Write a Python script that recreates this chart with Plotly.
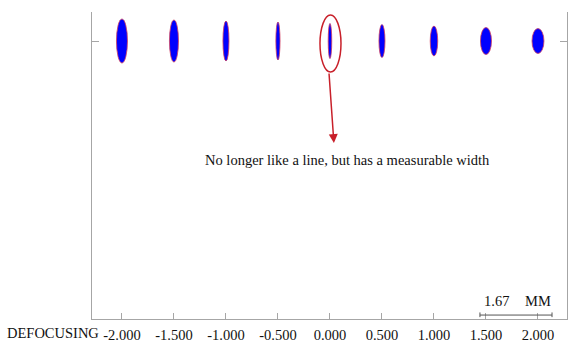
import plotly.graph_objects as go

# ---- data ----
defocus = [-2.0, -1.5, -1.0, -0.5, 0.0, 0.5, 1.0, 1.5, 2.0]
tick_labels = ["-2.000", "-1.500", "-1.000", "-0.500", "0.000", "0.500", "1.000", "1.500", "2.000"]
spot_width = [0.106, 0.087, 0.058, 0.040, 0.034, 0.058, 0.072, 0.106, 0.115]
spot_height = [0.423, 0.404, 0.385, 0.365, 0.337, 0.317, 0.288, 0.260, 0.240]
spot_row_y = 2.673
scale_label = "1.67"
scale_unit = "MM"
scale_bar = [1.442, 2.135]
note_text = "No longer like a line, but has a measurable width"

SERIF = "Liberation Serif, Times New Roman, serif"
AXIS_COLOR = "#a6a6a6"
RED = "#c8202a"

fig = go.Figure()
fig.add_trace(go.Scatter(x=defocus, y=[spot_row_y] * len(defocus), mode="markers",
                         marker=dict(size=1, opacity=0), hoverinfo="x", showlegend=False))

shapes = []
for x, w, h in zip(defocus, spot_width, spot_height):
    shapes.append(dict(type="circle", xref="x", yref="y",
                       x0=x - w / 2, x1=x + w / 2,
                       y0=spot_row_y - h / 2, y1=spot_row_y + h / 2,
                       fillcolor="#0000ff", line=dict(color="#d04060", width=0.8)))

# highlight ellipse around the 0.000 spot
shapes.append(dict(type="circle", xref="x", yref="y",
                   x0=-0.096, x1=0.106, y0=2.375, y1=2.923,
                   line=dict(color=RED, width=1.5)))

# scale bar
sb_y = 0.038
shapes.append(dict(type="line", xref="x", yref="y", x0=scale_bar[0], x1=scale_bar[1],
                   y0=sb_y, y1=sb_y, line=dict(color="#555555", width=1)))
for xe in scale_bar:
    shapes.append(dict(type="line", xref="x", yref="y", x0=xe, x1=xe,
                       y0=sb_y - 0.02, y1=sb_y + 0.025, line=dict(color="#555555", width=1)))

annotations = [
    dict(x=0.038, y=1.692, ax=-0.01, ay=2.375, xref="x", yref="y", axref="x", ayref="y",
         text="", showarrow=True, arrowhead=2, arrowsize=1.2, arrowwidth=1.5, arrowcolor=RED),
    dict(x=0.173, y=1.529, xref="x", yref="y", text=note_text, showarrow=False,
         font=dict(family=SERIF, size=14.5, color="#111111")),
    dict(x=1.60, y=0.173, xref="x", yref="y", text=scale_label, showarrow=False,
         font=dict(family=SERIF, size=14.5, color="#111111")),
    dict(x=2.0, y=0.173, xref="x", yref="y", text=scale_unit, showarrow=False,
         font=dict(family=SERIF, size=14.5, color="#111111")),
    dict(x=(101 - 92) / 475.0, y=-(333 - 319) / 307.0, xref="paper", yref="paper",
         text="DEFOCUSING", showarrow=False, xanchor="right", yanchor="middle",
         font=dict(family=SERIF, size=14.5, color="#111111")),
]

fig.update_layout(
    width=571, height=342,
    margin=dict(l=92, r=4, t=12, b=23, autoexpand=False),
    paper_bgcolor="white", plot_bgcolor="white",
    shapes=shapes, annotations=annotations, showlegend=False,
    xaxis=dict(range=[-2.288, 2.279], tickvals=defocus, ticktext=tick_labels,
               showgrid=False, zeroline=False, showline=True, linecolor=AXIS_COLOR,
               linewidth=1, ticks="inside", ticklen=6, tickcolor=AXIS_COLOR,
               ticklabelstandoff=3, automargin=False,
               tickfont=dict(family=SERIF, size=14.5, color="#111111"), mirror=False),
    yaxis=dict(range=[0, 2.952], tickvals=[spot_row_y], showticklabels=False,
               showgrid=False, zeroline=False, showline=True, linecolor=AXIS_COLOR,
               linewidth=1, ticks="inside", ticklen=7, tickcolor=AXIS_COLOR,
               mirror="ticks", automargin=False),
)

fig.write_html("out.html")
